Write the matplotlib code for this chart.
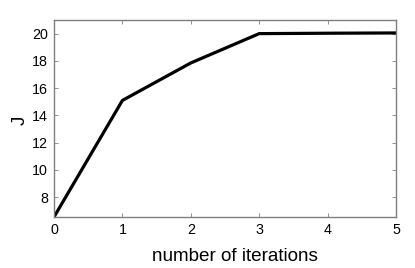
import matplotlib
matplotlib.use("Agg")
import matplotlib.pyplot as plt

iterations = [0, 1, 2, 3, 4, 5]
j_values = [6.55, 15.1, 17.85, 20.0, 20.03, 20.05]
y_ticks = [8, 10, 12, 14, 16, 18, 20]

plt.rcParams["font.family"] = "Liberation Sans"

fig = plt.figure(figsize=(4.15, 2.68), dpi=100)
ax = fig.add_axes([54 / 415, 1 - 217 / 268, 342 / 415, 197 / 268])

ax.plot(iterations, j_values, color="black", linewidth=2.3, solid_joinstyle="miter")

ax.set_xlim(0, 5)
ax.set_ylim(6.55, 21)
ax.set_yticks(y_ticks)
ax.set_xticks(iterations)

ax.set_xlabel("number of iterations", fontsize=13.6)
ax.set_ylabel("J", fontsize=13.6)
# label placement
ax.xaxis.set_label_coords(0.53, -0.155)
ax.yaxis.set_label_coords(-0.073, 0.49)

for s in ax.spines.values():
    s.set_color("#7f7f7f")
    s.set_linewidth(1.0)
ax.tick_params(direction="in", top=True, right=True, length=3, width=0.6,
               color="#7f7f7f", labelcolor="black", labelsize=10.3, pad=4.5)

fig.savefig("out.png", dpi=100)
